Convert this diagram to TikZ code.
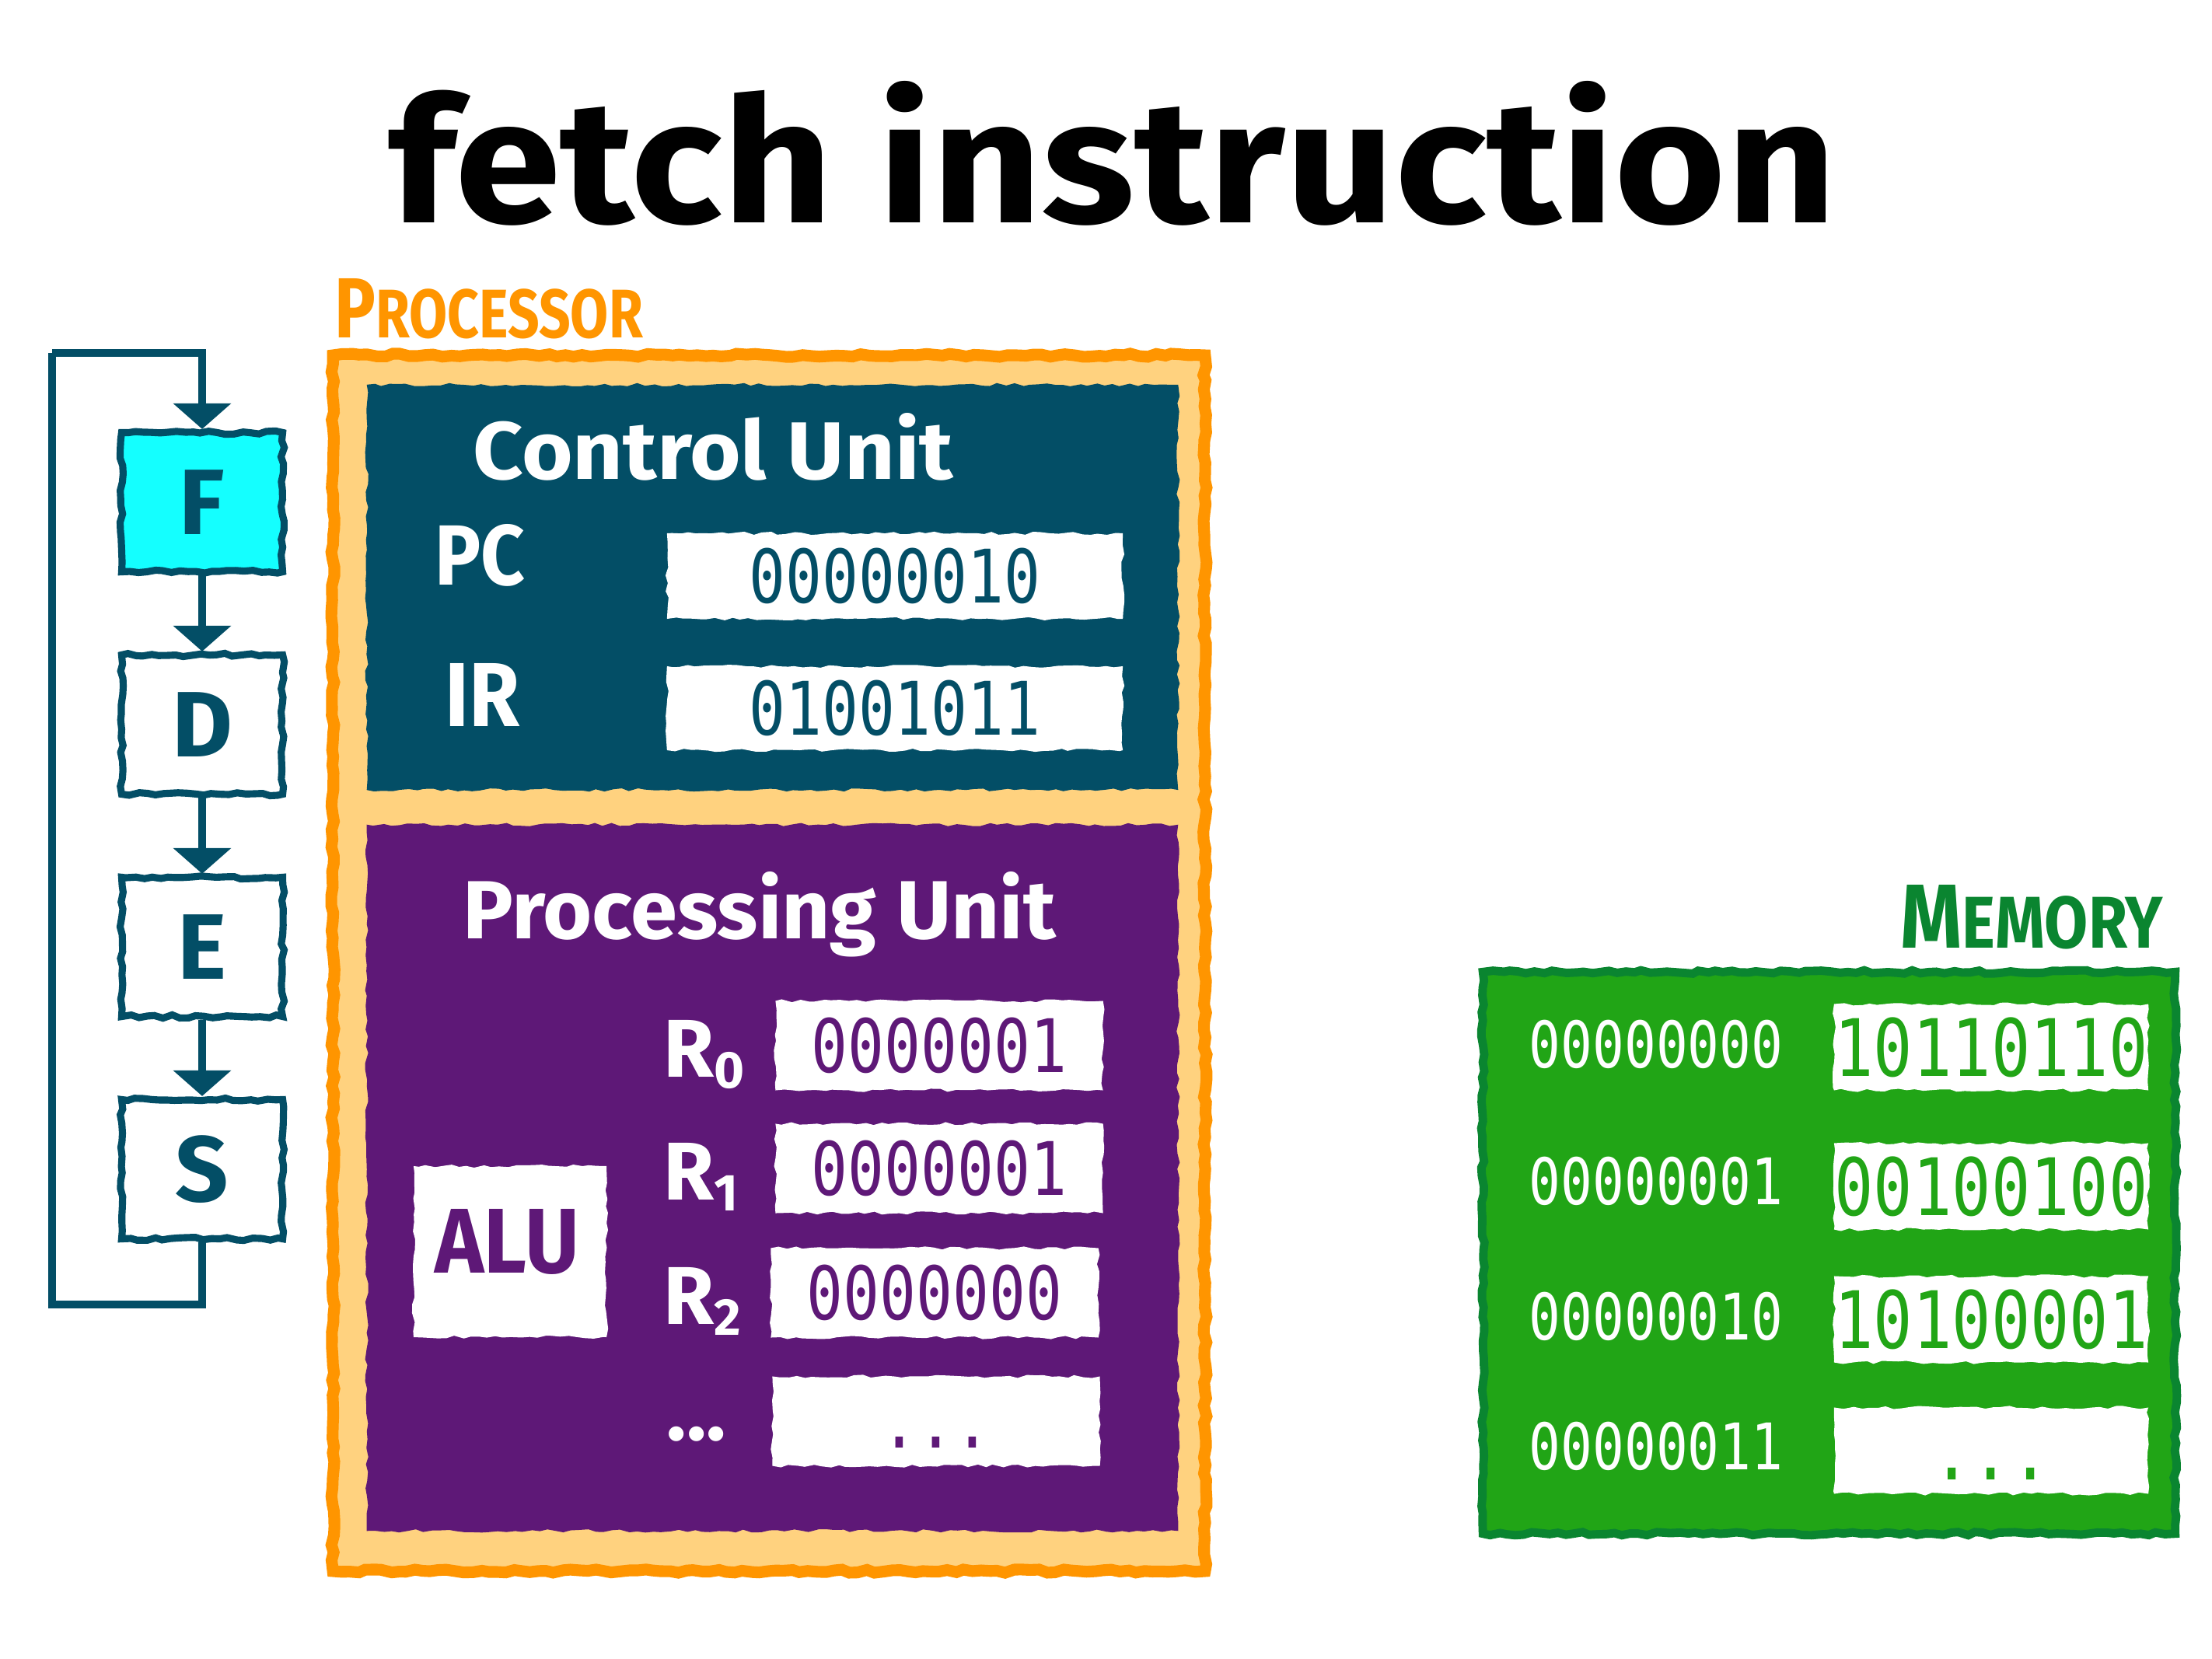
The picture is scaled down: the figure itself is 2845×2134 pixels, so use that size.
\documentclass[tikz,border=0pt]{standalone}
\usepackage{fontspec}
\setmainfont{Fira Sans}
\newfontfamily\monof{DejaVu Sans Mono}[FakeStretch=0.82]
\usetikzlibrary{arrows.meta,decorations.pathmorphing}
\definecolor{cuteal}{RGB}{3,78,102}
\definecolor{fcyan}{RGB}{20,255,255}
\definecolor{porange}{RGB}{255,149,0}
\definecolor{plight}{RGB}{255,210,127}
\definecolor{pupurple}{RGB}{94,24,119}
\definecolor{memfill}{RGB}{33,165,22}
\definecolor{memdark}{RGB}{10,133,48}
\newcommand{\fsz}[1]{\fontsize{#1}{#1}\selectfont}
\pgfmathsetseed{7}
\tikzset{
  rough/.style={decorate, decoration={random steps, segment length=3pt, amplitude=0.6pt}},
  stagebox/.style={draw=cuteal, line width=2.6pt, rough, minimum width=2.07cm, minimum height=1.79cm, inner sep=0,
                   text=cuteal, font=\bfseries\fsz{34}},
  flow/.style={draw=cuteal, line width=2.6pt, -{Triangle[width=0.73cm,length=0.33cm]}},
  loopline/.style={draw=cuteal, line width=2.6pt},
  wbox/.style={fill=white, rough, inner sep=0},
  lbl/.style={inner sep=0, anchor=base west, font=\bfseries},
  regval/.style={wbox, minimum width=4.21cm, minimum height=1.15cm, text=pupurple, font=\monof\fsz{27}},
  memval/.style={wbox, minimum width=4.04cm, minimum height=1.11cm, text=memfill, font=\monof\fsz{29}},
  addr/.style={inner sep=0, text=white, font=\monof\fsz{23.5}}
}
\begin{document}
\begin{tikzpicture}[x=0.01cm, y=-0.01cm]
\useasboundingbox (0,0) rectangle (2845,2134);

% title
\node[lbl, text=black] (title) at (499,287) {\resizebox{18.6cm}{1.82cm}{\bfseries fetch instruction}};

% FDES cycle
\node[stagebox, fill=fcyan] (F) at (260,646) {F};
\node[stagebox, fill=white] (D) at (260,932) {D};
\node[stagebox, fill=white] (E) at (260,1218) {E};
\node[stagebox, fill=white] (S) at (260,1504) {S};
\coordinate (lb) at (67,1678);
\coordinate (lt) at (67,454);
\draw[flow] (F.south) -- (D.north);
\draw[flow] (D.south) -- (E.north);
\draw[flow] (E.south) -- (S.north);
\draw[loopline] (S.south) |- (lb) -- (lt);
\draw[flow] (lt) -| (F.north);

% processor
\node[lbl, text=porange] (proclbl) at (430,435) {\resizebox{3.96cm}{0.76cm}{\bfseries\fsz{31}P\fsz{25}ROCESSOR}};
\node[draw=porange, line width=4.3pt, fill=plight, rough, minimum width=11.21cm, minimum height=15.63cm, inner sep=0] (proc) at (989,1239) {};

% control unit
\node[fill=cuteal, rough, minimum width=10.43cm, minimum height=5.21cm, inner sep=0] (cu) at (993.5,755.5) {};
\node[lbl, text=white] (cutitle) at (608,617) {\resizebox{6.17cm}{0.85cm}{\bfseries Control Unit}};
\node[lbl, text=white] (pclbl) at (559,753) {\resizebox{1.16cm}{0.78cm}{\bfseries PC}};
\node[lbl, text=white] (irlbl) at (572,934) {\resizebox{0.96cm}{0.81cm}{\bfseries IR}};
\node[wbox, minimum width=5.86cm, minimum height=1.10cm, text=cuteal, font=\monof\fsz{27}] (pc) at (1151,741) {00000010};
\node[wbox, minimum width=5.86cm, minimum height=1.08cm, text=cuteal, font=\monof\fsz{27}] (ir) at (1151,911) {01001011};

% processing unit
\node[fill=pupurple, rough, minimum width=10.43cm, minimum height=9.08cm, inner sep=0] (pu) at (993.5,1515) {};
\node[lbl, text=white] (putitle) at (595,1207) {\resizebox{7.62cm}{0.86cm}{\bfseries Processing Unit}};
\node[wbox, minimum width=2.48cm, minimum height=2.20cm] (alubox) at (656,1610) {};
\node[lbl, text=pupurple] (alu) at (559,1637) {\resizebox{1.85cm}{0.82cm}{\bfseries ALU}};

\node[lbl, text=white] (r0lbl) at (853,1385) {\fsz{30}R\lower4pt\hbox{\fsz{19}0}};
\node[lbl, text=white] (r1lbl) at (853,1543) {\fsz{30}R\lower4pt\hbox{\fsz{19}1}};
\node[lbl, text=white] (r2lbl) at (853,1703) {\fsz{30}R\lower4pt\hbox{\fsz{19}2}};
\node[inner sep=0, text=white] (rdots) at (896,1845) {\resizebox{0.76cm}{!}{\bfseries ...}};

\node[regval] (r0) at (1208,1345) {0000001};
\node[regval] (r1) at (1208,1503) {0000001};
\node[regval] (r2) at (1202,1663) {0000000};
\node[regval] (rmore) at (1204,1828) {\vphantom{0}...};

% memory
\node[lbl, text=memdark] (memlbl) at (2444,1219) {\resizebox{3.37cm}{0.81cm}{\bfseries\fsz{31}M\fsz{25}EMORY}};
\node[draw=memdark, line width=3.1pt, fill=memfill, rough, minimum width=8.90cm, minimum height=7.22cm, inner sep=0] (mem) at (2352.5,1611.5) {};

\node[addr] (a0) at (2130,1343) {00000000};
\node[addr] (a1) at (2130,1519) {00000001};
\node[addr] (a2) at (2130,1693) {00000010};
\node[addr] (a3) at (2130,1860) {00000011};

\node[memval] (m0) at (2561,1347) {10110110};
\node[memval] (m1) at (2561,1526) {00100100};
\node[memval] (m2) at (2561,1697) {10100001};
\node[memval] (m3) at (2561,1866) {\vphantom{0}...};
\end{tikzpicture}
\end{document}
